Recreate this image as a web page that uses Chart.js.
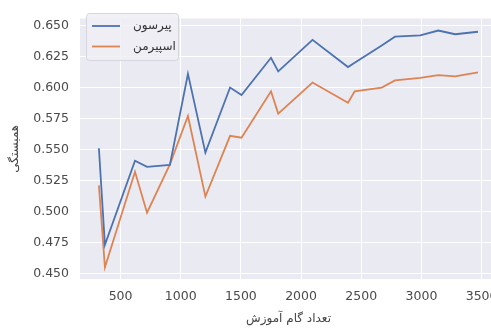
<!DOCTYPE html>
<html>
<head>
<meta charset="utf-8">
<script src="https://cdn.jsdelivr.net/npm/chart.js@4/dist/chart.umd.min.js"></script>
<style>
  html, body { margin: 0; padding: 0; background: #fff; overflow: hidden; }
  #wrap { position: relative; width: 510px; height: 329px; }
</style>
</head>
<body>
<div id="wrap"><canvas id="corrChart"></canvas></div>
<script>
// training steps (x) and the two correlation series
const steps = [320, 370, 620, 720, 910, 1060, 1205, 1410, 1505, 1750, 1810, 2095, 2390, 2445, 2670, 2780, 2990, 3140, 3280, 3470];
const pearson = [0.551, 0.473, 0.541, 0.536, 0.5375, 0.611, 0.5475, 0.600, 0.594, 0.624, 0.613, 0.6385, 0.6165, 0.620, 0.634, 0.641, 0.642, 0.646, 0.643, 0.645];
const spearman = [0.521, 0.455, 0.532, 0.499, 0.538, 0.577, 0.512, 0.561, 0.5595, 0.597, 0.579, 0.604, 0.5877, 0.597, 0.600, 0.6057, 0.6078, 0.610, 0.609, 0.6123];
const seriesNames = ['پیرسون', 'اسپیرمن'];
const xTicks = [500, 1000, 1500, 2000, 2500, 3000, 3500];
const yTicks = [0.450, 0.475, 0.500, 0.525, 0.550, 0.575, 0.600, 0.625, 0.650];

const plotBg = {
    id: 'plotBg',
    beforeDraw(chart) {
        const { ctx, chartArea: a } = chart;
        ctx.save();
        ctx.fillStyle = '#EAEAF2';
        ctx.fillRect(a.left, a.top, a.right - a.left, a.bottom - a.top);
        ctx.restore();
    }
};

// legend box drawn inside the plot, top-left (matplotlib style)
const innerLegend = {
    id: 'innerLegend',
    afterDraw(chart) {
        const ctx = chart.ctx;
        const x = 86, y = 13, w = 92, h = 47;
        ctx.save();
        ctx.fillStyle = 'rgba(238,238,244,0.85)';
        ctx.strokeStyle = '#d6d6de';
        ctx.lineWidth = 1;
        ctx.beginPath();
        ctx.roundRect(x + 0.5, y + 0.5, w, h, 3);
        ctx.fill();
        ctx.stroke();
        chart.data.datasets.forEach((ds, i) => {
            const ly = 26 + i * 20.5;
            ctx.strokeStyle = ds.borderColor;
            ctx.lineWidth = 1.8;
            ctx.beginPath();
            ctx.moveTo(92, ly);
            ctx.lineTo(120, ly);
            ctx.stroke();
            ctx.fillStyle = '#333';
            ctx.font = '12px "DejaVu Sans"';
            ctx.textAlign = 'left';
            ctx.textBaseline = 'middle';
            ctx.fillText(ds.label, 133, ly);
        });
        ctx.restore();
    }
};

const tickColor = '#4a4a4a';

new Chart(document.getElementById('corrChart'), {
    type: 'line',
    data: {
        datasets: [
            {
                label: seriesNames[0],
                data: steps.map((s, i) => ({ x: s, y: pearson[i] })),
                borderColor: '#4C72B0',
                borderWidth: 1.8,
                pointRadius: 0,
                tension: 0,
                fill: false
            },
            {
                label: seriesNames[1],
                data: steps.map((s, i) => ({ x: s, y: spearman[i] })),
                borderColor: '#DD8452',
                borderWidth: 1.8,
                pointRadius: 0,
                tension: 0,
                fill: false
            }
        ]
    },
    options: {
        responsive: true,
        maintainAspectRatio: false,
        animation: false,
        layout: { padding: { top: 8, right: 13, left: 0, bottom: 0 } },
        plugins: {
            legend: { display: false },
            tooltip: { enabled: false }
        },
        scales: {
            x: {
                type: 'linear',
                min: 163,
                max: 3628,
                afterBuildTicks: (scale) => { scale.ticks = xTicks.map(v => ({ value: v })); },
                afterFit: (scale) => { scale.height = 50; },
                grid: { color: '#ffffff', lineWidth: 1, drawTicks: false },
                border: { display: false },
                ticks: {
                    color: tickColor,
                    padding: 10,
                    maxRotation: 0,
                    font: { family: 'DejaVu Sans', size: 12.5 },
                    callback: (v) => String(v)
                },
                title: {
                    display: true,
                    text: 'تعداد گام آموزش',
                    color: '#444',
                    padding: { top: 0, bottom: 3 },
                    font: { family: 'DejaVu Sans', size: 12 }
                }
            },
            y: {
                min: 0.4455,
                max: 0.6557,
                afterBuildTicks: (scale) => { scale.ticks = yTicks.map(v => ({ value: v })); },
                afterFit: (scale) => { scale.width = 80; },
                grid: { color: '#ffffff', lineWidth: 1, drawTicks: false },
                border: { display: false },
                ticks: {
                    color: tickColor,
                    padding: 11,
                    font: { family: 'DejaVu Sans', size: 12.5 },
                    callback: (v) => v.toFixed(3)
                },
                title: {
                    display: true,
                    text: 'همبستگی',
                    color: '#444',
                    padding: { top: 8, bottom: 0 },
                    font: { family: 'DejaVu Sans', size: 12 }
                }
            }
        }
    },
    plugins: [plotBg, innerLegend]
});
</script>
</body>
</html>
